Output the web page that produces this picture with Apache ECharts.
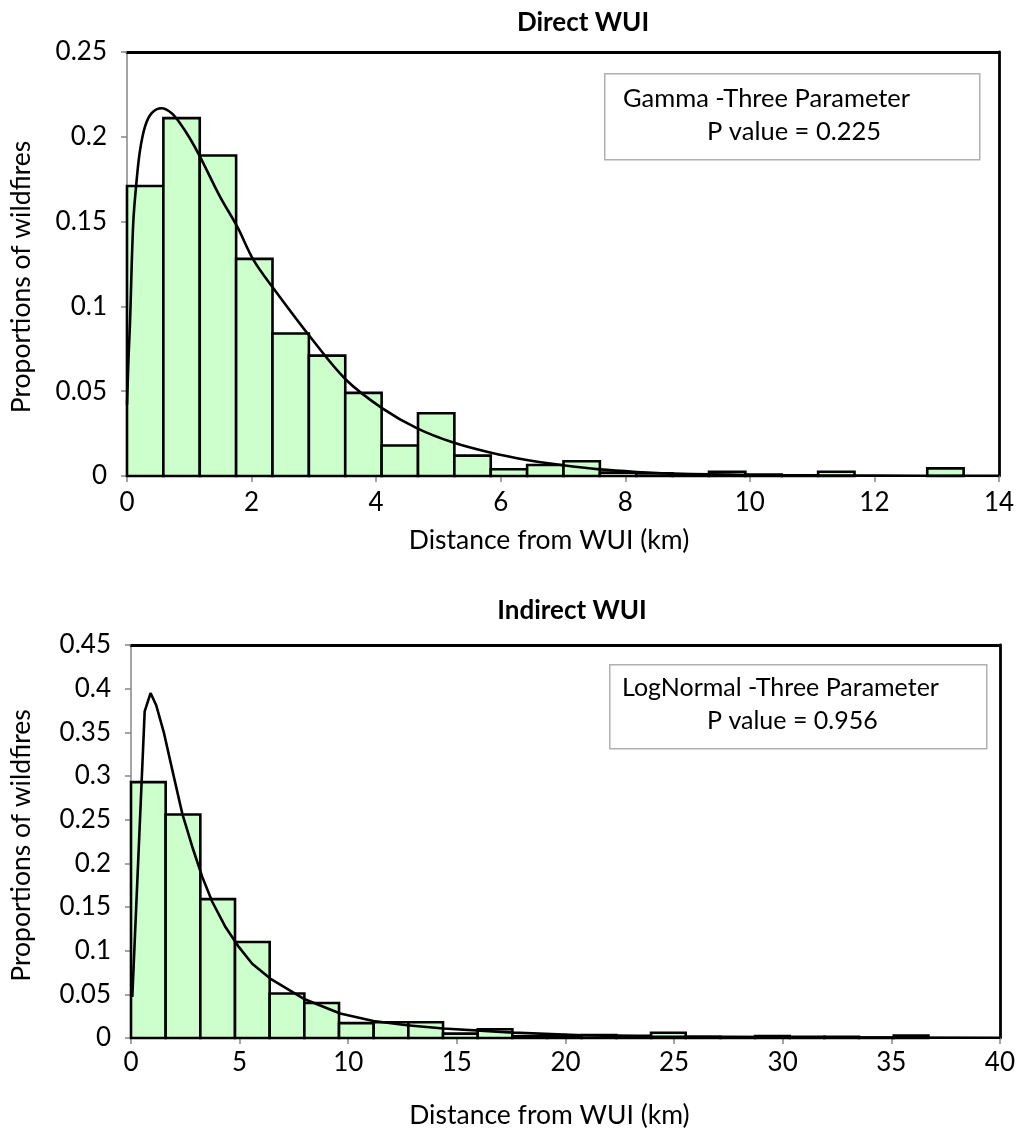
<!DOCTYPE html>
<html>
<head>
<meta charset="utf-8">
<script src="https://cdn.jsdelivr.net/npm/echarts@6/dist/echarts.min.js"></script>
<style>
  html, body { margin: 0; padding: 0; background: #fff; }
  #chart { width: 1018px; height: 1137px; }
</style>
</head>
<body>
<div id="chart"></div>
<script>
// ---- Direct WUI: share of wildfires per distance bin (bin width in km) ----
const directBinWidth = 0.584;
const directProportions = [
  0.171, 0.211, 0.189, 0.128, 0.084, 0.071, 0.049, 0.018, 0.037, 0.012,
  0.004, 0.0065, 0.0087, 0.002, 0.0016, 0.001, 0.0025, 0.0008, 0.0004, 0.0025,
  0, 0, 0.0045
];
// Fitted Gamma (three-parameter) density, [km, proportion]
const directFit = [
  [0.0, 0.042], [0.025, 0.07], [0.048, 0.09], [0.10, 0.149], [0.155, 0.1745],
  [0.209, 0.192], [0.289, 0.206], [0.396, 0.2139], [0.557, 0.2168], [0.717, 0.2139],
  [0.851, 0.208], [1.011, 0.199], [1.172, 0.1883], [1.493, 0.1647], [1.77, 0.147],
  [2.03, 0.1274], [2.35, 0.1107], [2.94, 0.0821], [3.52, 0.0566],
  [4.10, 0.0399], [4.66, 0.0281], [5.24, 0.0197], [5.83, 0.0138], [6.42, 0.0094],
  [7.0, 0.0063], [7.59, 0.0039], [8.18, 0.0024], [8.77, 0.0014], [10.0, 0.0006],
  [12.0, 0.0002], [14.0, 0.0001]
];

// ---- Indirect WUI ----
const indirectBinWidth = 1.596;
const indirectProportions = [
  0.293, 0.256, 0.159, 0.110, 0.051, 0.040, 0.017, 0.018, 0.018, 0.005,
  0.010, 0.002, 0.0025, 0.0035, 0.0025, 0.006, 0.0015, 0.0012, 0.0023, 0.0015,
  0.0015, 0.0005, 0.0027
];
// Fitted LogNormal (three-parameter) density, [km, proportion]
const indirectFit = [
  [0.06, 0.047], [0.63, 0.374], [0.90, 0.395], [1.16, 0.381], [1.52, 0.349],
  [1.90, 0.307], [2.36, 0.257], [2.82, 0.219], [3.28, 0.1845], [3.74, 0.156],
  [4.35, 0.127], [4.97, 0.104], [5.58, 0.085], [6.41, 0.068], [7.94, 0.045],
  [9.63, 0.028], [11.16, 0.0195], [12.7, 0.0146], [14.38, 0.0108], [17.6, 0.0062],
  [20.8, 0.0031], [24.0, 0.0016], [30.0, 0.0007], [35.0, 0.0004], [40.0, 0.0003]
];

const titles = ['Direct WUI', 'Indirect WUI'];
const fitNames = ['Gamma -Three Parameter', 'LogNormal -Three Parameter'];
const pValues = ['P value = 0.225', 'P value = 0.956'];
const xTitle = 'Distance from WUI (km)';
const yTitle = 'Proportions of wildfires';

const FONT = 'Lato';
const GRAY = '#868686';
const TICK_SIZE = 26;
const NAME_SIZE = 26.5;

function toBins(props, width) {
  return props.map((v, i) => [i * width, (i + 1) * width, v]);
}

function histItem(params, api) {
  const v = api.value(2);
  if (!v) return null;
  const p0 = api.coord([api.value(0), v]);
  const p1 = api.coord([api.value(1), 0]);
  return {
    type: 'rect',
    shape: { x: p0[0], y: p0[1], width: p1[0] - p0[0], height: p1[1] - p0[1] },
    style: { fill: '#ccffcc', stroke: '#000', lineWidth: 2.6 }
  };
}

// shiftLeft moves the centred axis title towards the start of the axis
function valueX(gridIndex, max, interval, margin, nameGap, shiftLeft) {
  return {
    gridIndex, type: 'value', min: 0, max, interval, position: 'bottom',
    axisLine: { show: true, onZero: false, lineStyle: { color: GRAY, width: 1.5 } },
    axisTick: { show: true, length: 6, lineStyle: { color: GRAY, width: 1.5 } },
    axisLabel: { color: '#000', fontFamily: FONT, fontSize: TICK_SIZE, margin },
    splitLine: { show: false },
    name: xTitle, nameLocation: 'middle', nameGap,
    nameTextStyle: { color: '#000', fontFamily: FONT, fontSize: NAME_SIZE,
      padding: [0, shiftLeft * 2, 0, 0] }
  };
}
function frameX(gridIndex, max) {
  return {
    gridIndex, type: 'value', min: 0, max, position: 'top',
    axisLine: { show: true, onZero: false, lineStyle: { color: '#000', width: 2.8 } },
    axisTick: { show: false }, axisLabel: { show: false }, splitLine: { show: false }
  };
}
function valueY(gridIndex, max, nameGap, shiftDown) {
  return {
    gridIndex, type: 'value', min: 0, max, interval: 0.05, position: 'left',
    axisLine: { show: true, onZero: false, lineStyle: { color: GRAY, width: 1.5 } },
    axisTick: { show: true, length: 6, lineStyle: { color: GRAY, width: 1.5 } },
    axisLabel: { color: '#000', fontFamily: FONT, fontSize: TICK_SIZE, margin: 20 },
    splitLine: { show: false },
    name: yTitle, nameLocation: 'middle', nameGap, nameRotate: 90,
    nameTextStyle: { color: '#000', fontFamily: FONT, fontSize: NAME_SIZE,
      padding: [0, shiftDown * 2, 0, 0] }
  };
}
function frameY(gridIndex, max) {
  return {
    gridIndex, type: 'value', min: 0, max, position: 'right',
    axisLine: { show: true, onZero: false, lineStyle: { color: '#000', width: 2.8 } },
    axisTick: { show: false }, axisLabel: { show: false }, splitLine: { show: false }
  };
}

const chart = echarts.init(document.getElementById('chart'), null, { renderer: 'canvas' });

chart.setOption({
  backgroundColor: '#fff',
  animation: false,
  title: [
    { text: titles[0], left: 578, top: 5, textAlign: 'center',
      textStyle: { fontFamily: FONT, fontSize: 26, fontWeight: 'bold', color: '#000' } },
    { text: titles[1], left: 567, top: 593, textAlign: 'center',
      textStyle: { fontFamily: FONT, fontSize: 26, fontWeight: 'bold', color: '#000' } }
  ],
  grid: [
    { left: 127, top: 52, width: 872, height: 424 },
    { left: 131, top: 645, width: 869, height: 393 }
  ],
  xAxis: [
    valueX(0, 14, 2, 14, 51, 14),
    frameX(0, 14),
    valueX(1, 40, 5, 12, 64, 16),
    frameX(1, 40)
  ],
  yAxis: [
    valueY(0, 0.25, 92, 13),
    frameY(0, 0.25),
    valueY(1, 0.45, 96, 4),
    frameY(1, 0.45)
  ],
  series: [
    { type: 'custom', xAxisIndex: 0, yAxisIndex: 0, renderItem: histItem,
      encode: { x: [0, 1], y: 2 }, data: toBins(directProportions, directBinWidth), z: 2 },
    { type: 'line', xAxisIndex: 0, yAxisIndex: 0, data: directFit, smooth: 0.35,
      symbol: 'none', lineStyle: { color: '#000', width: 2.6 }, z: 3 },
    { type: 'custom', xAxisIndex: 2, yAxisIndex: 2, renderItem: histItem,
      encode: { x: [0, 1], y: 2 }, data: toBins(indirectProportions, indirectBinWidth), z: 2 },
    { type: 'line', xAxisIndex: 2, yAxisIndex: 2, data: indirectFit, smooth: false,
      symbol: 'none', lineStyle: { color: '#000', width: 2.6 }, z: 3 }
  ],
  graphic: [
    { type: 'rect', left: 604, top: 73, z: 10,
      shape: { width: 375, height: 86 }, style: { fill: '#fff', stroke: '#b0b0b0', lineWidth: 1.5 } },
    { type: 'text', left: 623, top: 86, z: 11,
      style: { text: fitNames[0], font: '25.5px ' + FONT, fill: '#000' } },
    { type: 'text', left: 707, top: 119, z: 11,
      style: { text: pValues[0], font: '25.5px ' + FONT, fill: '#000' } },
    { type: 'rect', left: 609, top: 664, z: 10,
      shape: { width: 377, height: 84 }, style: { fill: '#fff', stroke: '#b0b0b0', lineWidth: 1.5 } },
    { type: 'text', left: 622, top: 675, z: 11,
      style: { text: fitNames[1], font: '25px ' + FONT, fill: '#000' } },
    { type: 'text', left: 707, top: 708, z: 11,
      style: { text: pValues[1], font: '25px ' + FONT, fill: '#000' } }
  ]
});
</script>
</body>
</html>
